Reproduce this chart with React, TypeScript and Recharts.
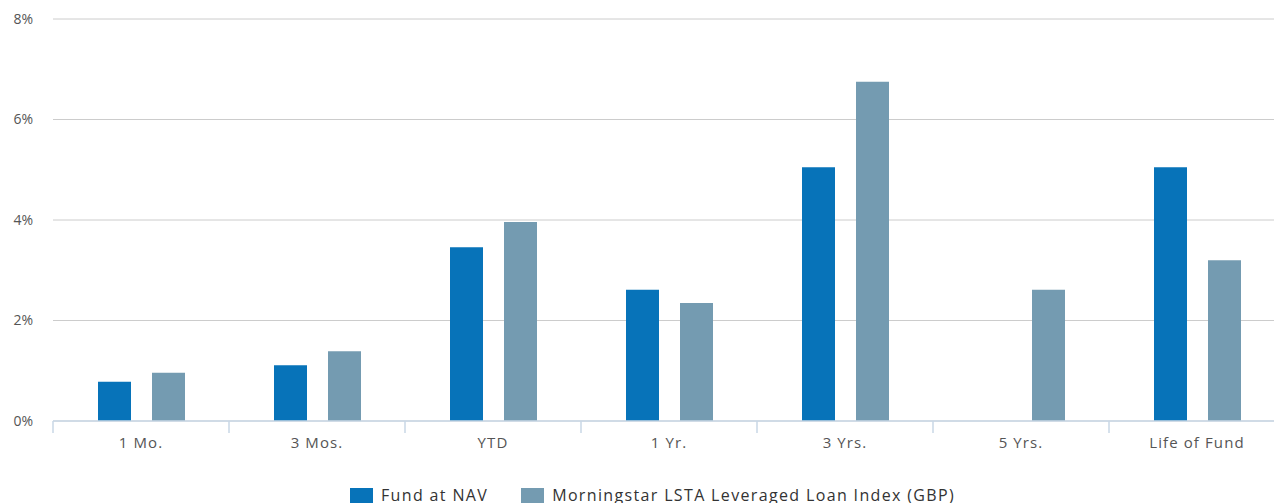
import React from 'react';
import { BarChart, Bar, XAxis, YAxis, CartesianGrid, Legend } from 'recharts';

const periods = ['1 Mo.', '3 Mos.', 'YTD', '1 Yr.', '3 Yrs.', '5 Yrs.', 'Life of Fund'];
const fundAtNav = [0.78, 1.11, 3.46, 2.61, 5.05, null, 5.05];
const loanIndex = [0.96, 1.39, 3.96, 2.35, 6.75, 2.61, 3.2];
const yTicks = [0, 2, 4, 6, 8];

const FUND_COLOR = '#0773b9';
const INDEX_COLOR = '#749bb1';
const FONT = '"Open Sans", "DejaVu Sans", sans-serif';

const data = periods.map((p, i) => ({ period: p, fund: fundAtNav[i], index: loanIndex[i] }));

const legendItems = [
  { label: 'Fund at NAV', color: FUND_COLOR },
  { label: 'Morningstar LSTA Leveraged Loan Index (GBP)', color: INDEX_COLOR },
];

// category label plus a tick mark at the band's left edge (and right edge for the last one)
const PeriodTick = (props: any) => {
  const { x, y, payload, index, visibleTicksCount } = props;
  const half = payload.offset || 0;
  const top = y - 16;
  return (
    <g>
      <line x1={x - half} x2={x - half} y1={top} y2={top + 12} stroke="#c8d7e6" strokeWidth={1.5} />
      {index === visibleTicksCount - 1 && (
        <line x1={x + half} x2={x + half} y1={top} y2={top + 12} stroke="#c8d7e6" strokeWidth={1.5} />
      )}
      <text x={x} y={y} dy="0.71em" textAnchor="middle" fill="#555" fontSize={15} letterSpacing={1.1} fontFamily={FONT}>
        {payload.value}
      </text>
    </g>
  );
};

const LegendContent = () => (
  <div style={{ display: 'flex', justifyContent: 'flex-start', paddingLeft: 350, fontFamily: FONT, fontSize: 16, color: '#333', letterSpacing: 1.35 }}>
    {legendItems.map((item) => (
      <div key={item.label} style={{ display: 'flex', alignItems: 'center', marginRight: 33, whiteSpace: 'nowrap' }}>
        <span style={{ display: 'inline-block', width: 23, height: 15, background: item.color, marginRight: 8 }} />
        <span style={{ lineHeight: '20px' }}>{item.label}</span>
      </div>
    ))}
  </div>
);

export default function App() {
  return (
    <div style={{ position: 'fixed', left: 0, top: 0, width: 1274, height: 503, overflow: 'hidden', background: '#fff' }}>
      <BarChart
        width={1285}
        height={505}
        data={data}
        margin={{ top: 19, right: 0, left: 0, bottom: 0 }}
        barGap={21}
        barSize={33}
      >
        <CartesianGrid vertical={false} stroke="#cccccc" />
        <XAxis
          dataKey="period"
          height={64}
          interval={0}
          axisLine={{ stroke: '#c8d7e6', strokeWidth: 1.5 }}
          tickLine={false}
          tickSize={12}
          tickMargin={4}
          tick={<PeriodTick />}
        />
        <YAxis
          width={53}
          domain={[0, 8]}
          ticks={yTicks}
          tickFormatter={(v) => `${v}%`}
          axisLine={false}
          tickLine={false}
          tickSize={6}
          tickMargin={14}
          tick={{ fill: '#555', fontSize: 14, fontFamily: FONT }}
        />
        <Legend verticalAlign="bottom" content={<LegendContent />} />
        <Bar dataKey="fund" name="Fund at NAV" fill={FUND_COLOR} isAnimationActive={false} />
        <Bar dataKey="index" name="Morningstar LSTA Leveraged Loan Index (GBP)" fill={INDEX_COLOR} isAnimationActive={false} />
      </BarChart>
    </div>
  );
}
